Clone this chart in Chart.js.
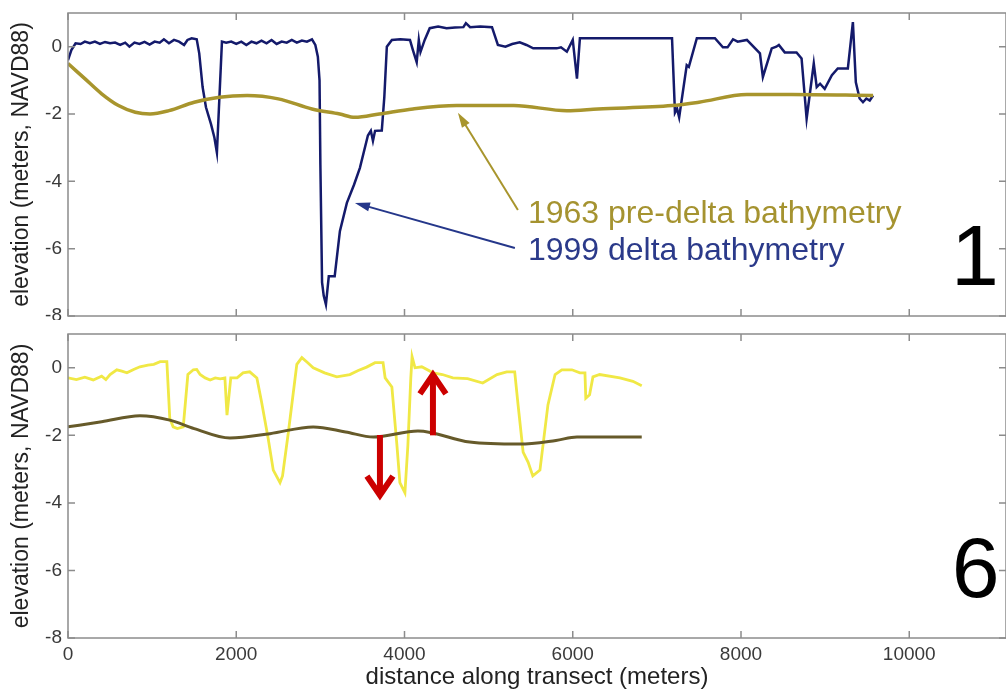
<!DOCTYPE html>
<html><head><meta charset="utf-8">
<script src="https://cdn.jsdelivr.net/npm/chart.js@4/dist/chart.umd.min.js"></script>
<style>
html,body{margin:0;padding:0;background:#fff;}
#wrap{position:relative;width:1006px;height:690px;overflow:hidden;background:#fff;}
#c1{position:absolute;left:0;top:0;}
#c2{position:absolute;left:0;top:320px;}
</style></head><body>
<div id="wrap">
<canvas id="c1" width="1006" height="320"></canvas>
<canvas id="c2" width="1006" height="370"></canvas>
</div>
<script>
// ---------- data ----------
const xTicks = [0, 2000, 4000, 6000, 8000, 10000];
const yTicks = [-8, -6, -4, -2, 0];
const seriesLabels = ['1963 pre-delta bathymetry', '1999 delta bathymetry'];
const panelLabels = ['1', '6'];
const xTitle = 'distance along transect (meters)';
const yTitle = 'elevation (meters, NAVD88)';

// panel 1: 1999 delta bathymetry
const delta1X = [0,40,90,150,200,260,320,380,440,500,560,620,680,730,790,850,910,970,1030,1090,1140,1200,1260,1320,1380,1420,1470,1530,1560,1600,1640,1700,1740,1770,1800,1830,1880,1940,2000,2060,2120,2180,2240,2300,2360,2420,2480,2540,2600,2660,2720,2780,2840,2900,2940,2970,2990,3000,3020,3040,3066,3100,3170,3232,3315,3400,3470,3565,3600,3625,3650,3730,3760,3790,3850,3950,4065,4100,4145,4170,4190,4240,4300,4400,4500,4600,4700,4730,4780,4900,5040,5110,5200,5280,5370,5450,5530,5810,5860,5930,6000,6050,6085,7180,7215,7240,7265,7355,7380,7475,7690,7785,7840,7905,7960,8070,8225,8260,8365,8420,8450,8520,8660,8720,8780,8865,8900,8940,8995,9080,9150,9270,9330,9365,9410,9450,9490,9530,9570];
const delta1Y = [-0.4,-0.1,0.1,0.08,0.15,0.1,0.15,0.08,0.14,0.1,0.12,0.05,0.12,0.0,0.12,0.08,0.14,0.06,0.15,0.12,0.22,0.1,0.2,0.15,0.05,0.2,0.25,0.22,-0.2,-1.2,-1.8,-2.3,-2.7,-3.15,-1.5,0.15,0.12,0.15,0.08,0.15,0.05,0.15,0.1,0.18,0.1,0.2,0.08,0.15,0.12,0.2,0.12,0.18,0.15,0.22,0.05,-0.3,-1.0,-3.5,-7.0,-7.4,-7.66,-6.82,-6.82,-5.48,-4.64,-4.1,-3.6,-2.64,-2.5,-2.8,-2.5,-2.49,-1.5,0.0,0.2,0.22,0.2,-0.1,-0.46,0.2,-0.16,0.2,0.55,0.6,0.55,0.57,0.58,0.7,0.58,0.6,0.58,0.05,0.0,0.08,0.13,0.05,-0.05,-0.05,-0.02,-0.15,0.2,-0.95,0.25,0.25,-1.96,-1.84,-2.1,-0.55,-0.6,0.25,0.25,-0.02,-0.02,0.22,0.15,0.2,-0.2,-0.9,-0.05,0.0,0.05,-0.17,-0.17,-0.35,-2.14,-0.5,-1.2,-1.1,-1.25,-0.85,-0.65,-0.65,0.73,-1.06,-1.54,-1.65,-1.54,-1.6,-1.45];

// panel 1: 1963 pre-delta bathymetry
const pre1X = [0,200,400,600,800,975,1200,1500,1800,2130,2500,2900,3230,3410,3700,4100,4620,5300,5930,6300,7180,7500,8070,8600,9570];
const pre1Y = [-0.5,-0.95,-1.4,-1.75,-1.95,-2.0,-1.9,-1.65,-1.5,-1.45,-1.55,-1.85,-2.0,-2.1,-2.0,-1.85,-1.75,-1.75,-1.9,-1.85,-1.75,-1.65,-1.42,-1.42,-1.45];

// panel 6: recent bathymetry
const delta6X = [0,100,200,300,400,450,500,580,640,700,780,855,950,1020,1095,1175,1210,1250,1300,1370,1425,1490,1530,1570,1630,1690,1750,1810,1865,1890,1935,2010,2080,2160,2245,2300,2380,2440,2520,2550,2620,2720,2780,2850,2915,3050,3195,3350,3450,3550,3650,3745,3770,3850,3910,3945,4005,4040,4075,4090,4125,4205,4340,4450,4575,4750,4930,5100,5215,5310,5350,5410,5470,5525,5610,5705,5790,5870,5990,6085,6145,6155,6200,6240,6320,6560,6715,6820];
const delta6Y = [-0.3,-0.35,-0.28,-0.36,-0.25,-0.35,-0.2,-0.06,-0.1,-0.15,-0.05,0.03,0.08,0.1,0.18,0.18,-1.5,-1.75,-1.8,-1.75,-0.2,-0.06,-0.05,-0.2,-0.3,-0.36,-0.3,-0.33,-0.3,-1.4,-0.3,-0.3,-0.15,-0.12,-0.3,-1.0,-2.1,-3.03,-3.4,-3.2,-1.9,0.1,0.3,0.15,0.0,-0.15,-0.27,-0.2,-0.08,0.02,0.15,0.15,-0.3,-0.57,-2.3,-3.4,-3.7,-2.3,-0.3,0.33,0.0,0.03,-0.15,-0.2,-0.3,-0.32,-0.45,-0.2,-0.12,-0.12,-1.1,-2.5,-2.8,-3.2,-3.03,-1.1,-0.2,-0.06,-0.06,-0.15,-0.15,-0.9,-0.8,-0.27,-0.2,-0.3,-0.4,-0.53];

// panel 6: 1963 pre-delta bathymetry
const pre6X = [0,400,855,1210,1500,1925,2400,2915,3300,3630,4160,4775,5370,5800,6050,6820];
const pre6Y = [-1.75,-1.6,-1.42,-1.55,-1.8,-2.08,-1.95,-1.75,-1.9,-2.05,-1.87,-2.2,-2.26,-2.15,-2.05,-2.05];

// ---------- drawing ----------
const F = "'Liberation Sans', Arial, sans-serif";
const pts = (xs, ys) => xs.map((x, i) => ({x: x, y: ys[i]}));

const deco = {
  id: 'deco',
  afterDatasetsDraw(chart, args, o) {
    const {ctx, chartArea: a, scales: {x, y}} = chart;
    ctx.save();
    // box
    ctx.strokeStyle = '#8c8c8c'; ctx.lineWidth = 1.5;
    ctx.strokeRect(a.left, a.top, a.right - a.left, a.bottom - a.top);
    // inner ticks
    ctx.beginPath();
    xTicks.forEach(v => { const px = x.getPixelForValue(v);
      ctx.moveTo(px, a.bottom); ctx.lineTo(px, a.bottom - 7);
      ctx.moveTo(px, a.top); ctx.lineTo(px, a.top + 7); });
    yTicks.forEach(v => { const py = y.getPixelForValue(v);
      ctx.moveTo(a.left, py); ctx.lineTo(a.left + 7, py);
      ctx.moveTo(a.right, py); ctx.lineTo(a.right - 7, py); });
    ctx.stroke();
    // thin annotation arrows
    (o.arrows || []).forEach(ar => {
      const x0 = x.getPixelForValue(ar.from[0]), y0 = y.getPixelForValue(ar.from[1]);
      const x1 = x.getPixelForValue(ar.to[0]), y1 = y.getPixelForValue(ar.to[1]);
      const ang = Math.atan2(y1 - y0, x1 - x0);
      ctx.strokeStyle = ar.color; ctx.fillStyle = ar.color; ctx.lineWidth = 2;
      ctx.beginPath(); ctx.moveTo(x0, y0);
      ctx.lineTo(x1 - 10 * Math.cos(ang), y1 - 10 * Math.sin(ang)); ctx.stroke();
      ctx.beginPath(); ctx.moveTo(x1, y1);
      ctx.lineTo(x1 - 15 * Math.cos(ang) + 4.5 * Math.sin(ang), y1 - 15 * Math.sin(ang) - 4.5 * Math.cos(ang));
      ctx.lineTo(x1 - 15 * Math.cos(ang) - 4.5 * Math.sin(ang), y1 - 15 * Math.sin(ang) + 4.5 * Math.cos(ang));
      ctx.closePath(); ctx.fill();
    });
    // red block arrows
    (o.red || []).forEach(r => {
      const px = x.getPixelForValue(r.x), y0 = y.getPixelForValue(r.from), y1 = y.getPixelForValue(r.to);
      const dir = y1 > y0 ? 1 : -1;
      ctx.strokeStyle = '#cc0000'; ctx.lineWidth = 6; ctx.lineCap = 'butt'; ctx.lineJoin = 'miter';
      ctx.beginPath(); ctx.moveTo(px, y0); ctx.lineTo(px, y1 - dir * 4); ctx.stroke();
      ctx.beginPath(); ctx.moveTo(px - 13, y1 - dir * 22); ctx.lineTo(px, y1 - dir * 3); ctx.lineTo(px + 13, y1 - dir * 22); ctx.stroke();
    });
    // texts
    (o.texts || []).forEach(t => {
      ctx.fillStyle = t.color; ctx.font = t.size + 'px ' + F;
      ctx.textAlign = t.align; ctx.textBaseline = t.base;
      ctx.fillText(t.text, x.getPixelForValue(t.x), y.getPixelForValue(t.y));
    });
    ctx.restore();
  }
};

function makeScales(showX, xH) {
  return {
    x: {type: 'linear', min: 0, max: 11150,
      afterBuildTicks: s => { s.ticks = xTicks.map(v => ({value: v})); },
      afterFit: s => { s.height = xH; s.paddingLeft = 0; s.paddingRight = 0; },
      grid: {display: false, drawTicks: false}, border: {display: false},
      ticks: {display: showX, color: '#3a3a3a', font: {family: F, size: 19}, padding: 5,
        maxRotation: 0, autoSkip: false, callback: v => String(v)},
      title: {display: showX, text: xTitle, color: '#222', font: {family: F, size: 24}, padding: {top: 0, bottom: -2}}},
    y: {min: -8, max: 1,
      afterBuildTicks: s => { s.ticks = yTicks.map(v => ({value: v})); },
      afterFit: s => { s.width = 68; s.paddingTop = 0; s.paddingBottom = 0; },
      grid: {display: false, drawTicks: false}, border: {display: false},
      ticks: {color: '#3a3a3a', font: {family: F, size: 19}, padding: 6, callback: v => String(v)},
      title: {display: true, text: yTitle, color: '#222', font: {family: F, size: 23}, padding: {top: 8, bottom: 0}}}
  };
}

new Chart(document.getElementById('c1'), {
  type: 'line',
  data: {datasets: [
    {label: seriesLabels[0], data: pts(pre1X, pre1Y), borderColor: '#a8952d', borderWidth: 3.5, pointRadius: 0, cubicInterpolationMode: 'monotone'},
    {label: seriesLabels[1], data: pts(delta1X, delta1Y), borderColor: '#141a6b', borderWidth: 2.5, pointRadius: 0, tension: 0}
  ]},
  options: {
    responsive: false, animation: false, events: [],
    layout: {padding: {top: 13, right: 0, left: 0, bottom: 0}},
    scales: makeScales(false, 4),
    plugins: {legend: {display: false}, tooltip: {enabled: false},
      deco: {
        arrows: [
          {from: [5348, -4.85], to: [4635, -1.96], color: '#a8952d'},
          {from: [5312, -5.98], to: [3411, -4.64], color: '#25378a'}
        ],
        texts: [
          {text: seriesLabels[0], x: 5467, y: -4.97, size: 32, color: '#a59330', align: 'left', base: 'middle'},
          {text: seriesLabels[1], x: 5467, y: -6.07, size: 32, color: '#2b3a8a', align: 'left', base: 'middle'},
          {text: panelLabels[0], x: 10780, y: -7.09, size: 86, color: '#000', align: 'center', base: 'alphabetic'}
        ]
      }}
  },
  plugins: [deco]
});

new Chart(document.getElementById('c2'), {
  type: 'line',
  data: {datasets: [
    {label: seriesLabels[0], data: pts(pre6X, pre6Y), borderColor: '#665a2a', borderWidth: 3, pointRadius: 0, cubicInterpolationMode: 'monotone'},
    {label: 'recent bathymetry', data: pts(delta6X, delta6Y), borderColor: '#f0e845', borderWidth: 2.8, pointRadius: 0, tension: 0}
  ]},
  options: {
    responsive: false, animation: false, events: [],
    layout: {padding: {top: 14, right: 0, left: 0, bottom: 0}},
    scales: makeScales(true, 52),
    plugins: {legend: {display: false}, tooltip: {enabled: false},
      deco: {
        red: [
          {x: 3708, from: -1.99, to: -3.86},
          {x: 4338, from: -2.0, to: -0.12}
        ],
        texts: [
          {text: panelLabels[1], x: 10790, y: -6.8, size: 86, color: '#000', align: 'center', base: 'alphabetic'}
        ]
      }}
  },
  plugins: [deco]
});
</script>
</body></html>
